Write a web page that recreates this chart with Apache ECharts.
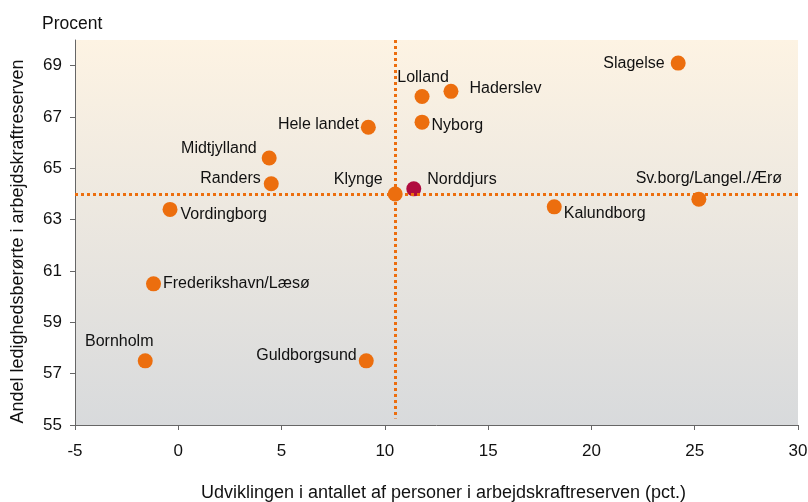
<!DOCTYPE html>
<html>
<head>
<meta charset="utf-8">
<script src="https://cdn.jsdelivr.net/npm/echarts@6/dist/echarts.min.js"></script>
<style>
  html, body { margin: 0; padding: 0; background: #fff; }
  #chart { width: 808px; height: 502px; }
</style>
</head>
<body>
<div id="chart"></div>
<script>
// kommuner og værdier
const names = ['Slagelse', 'Lolland', 'Haderslev', 'Nyborg', 'Norddjurs', 'Kalundborg',
    'Sv.borg/Langel./Ærø', 'Hele landet', 'Midtjylland', 'Randers', 'Klynge',
    'Vordingborg', 'Frederikshavn/Læsø', 'Bornholm', 'Guldborgsund'];
const xValues = [24.2, 11.8, 13.2, 11.8, 11.4, 18.2, 25.2, 9.2, 4.4, 4.5, 10.5, -0.4, -1.2, -1.6, 9.1];
const yValues = [69.1, 67.8, 68.0, 66.8, 64.2, 63.5, 63.8, 66.6, 65.4, 64.4, 64.0, 63.4, 60.5, 57.5, 57.5];
const highlighted = 'Norddjurs';
const refX = 10.5;   // lodret stiplet linje
const refY = 64;     // vandret stiplet linje
const yTicks = [55, 57, 59, 61, 63, 65, 67, 69];

// label-placering pr. punkt (kun stil)
const labelPos = {
    'Slagelse': { position: 'left', distance: 6, offset: [0, 0] },
    'Lolland': { position: 'top', distance: 3, offset: [1, 0] },
    'Haderslev': { position: 'right', distance: 11, offset: [0, -3] },
    'Nyborg': { position: 'right', distance: 2, offset: [0, 3] },
    'Norddjurs': { position: 'right', distance: 6, offset: [0, -9] },
    'Kalundborg': { position: 'right', distance: 2, offset: [0, 7] },
    'Sv.borg/Langel./Ærø': { position: 'top', distance: 5, offset: [10, 0] },
    'Hele landet': { position: 'left', distance: 2, offset: [0, -3] },
    'Midtjylland': { position: 'left', distance: 5, offset: [0, -9] },
    'Randers': { position: 'left', distance: 3, offset: [0, -5] },
    'Klynge': { position: 'left', distance: 5, offset: [0, -14] },
    'Vordingborg': { position: 'right', distance: 3, offset: [0, 5] },
    'Frederikshavn/Læsø': { position: 'right', distance: 2, offset: [0, 0] },
    'Bornholm': { position: 'top', distance: 4, offset: [-26, 0] },
    'Guldborgsund': { position: 'left', distance: 2, offset: [0, -5] }
};

const FONT = 'Arial, "Liberation Sans", sans-serif';
const orange = '#EC6E0E';
const crimson = '#B00B3E';

function pointsFor(filter) {
    return names.map((n, i) => ({ name: n, value: [xValues[i], yValues[i]] }))
        .filter(p => filter(p.name))
        .map(p => Object.assign(p, {
            label: Object.assign({ show: true, formatter: '{b}' }, labelPos[p.name])
        }));
}

const chart = echarts.init(document.getElementById('chart'));
const label = { color: '#111', fontSize: 16, fontFamily: FONT };

chart.setOption({
    animation: false,
    title: {
        text: 'Procent', left: 37, top: 10,
        textStyle: { color: '#111', fontSize: 17.5, fontWeight: 'normal', fontFamily: FONT }
    },
    grid: {
        left: 75, right: 10, top: 40, bottom: 77, show: true, borderWidth: 0,
        outerBoundsMode: 'none',
        backgroundColor: new echarts.graphic.LinearGradient(0, 0, 0, 1, [
            { offset: 0, color: '#FDF3E3' },
            { offset: 1, color: '#D8DADC' }
        ])
    },
    xAxis: {
        type: 'value', min: -5, max: 30, interval: 5,
        name: 'Udviklingen i antallet af personer i arbejdskraftreserven (pct.)',
        nameLocation: 'middle', nameGap: 59,
        nameTextStyle: { color: '#111', fontSize: 18, fontFamily: FONT, padding: [0, 0, 0, 14] },
        axisLine: { onZero: false, lineStyle: { color: '#666', width: 1 } },
        axisTick: { show: true, length: 5, lineStyle: { color: '#666' } },
        axisLabel: { color: '#111', fontSize: 17, fontFamily: FONT, margin: 18 },
        splitLine: { show: false }
    },
    yAxis: {
        type: 'value', min: 55, max: 70,
        name: 'Andel ledighedsberørte i arbejdskraftreserven',
        nameLocation: 'middle', nameGap: 48,
        nameTextStyle: { color: '#111', fontSize: 18, fontFamily: FONT, padding: [0, 18, 0, 0] },
        axisLine: { show: true, onZero: false, lineStyle: { color: '#666', width: 1 } },
        axisTick: { show: true, length: 5, customValues: yTicks, lineStyle: { color: '#666' } },
        axisLabel: { color: '#111', fontSize: 17, fontFamily: FONT, margin: 13, customValues: yTicks },
        splitLine: { show: false }
    },
    series: [
        {
            type: 'scatter', z: 2, symbolSize: 15,
            itemStyle: { color: crimson, opacity: 1 },
            label: label,
            data: pointsFor(n => n === highlighted)
        },
        {
            type: 'scatter', z: 3, data: [], silent: true,
            markLine: {
                symbol: 'none', silent: true, animation: false,
                label: { show: false },
                lineStyle: { color: orange, width: 3, type: [3, 3], opacity: 1 },
                data: [
                    [{ coord: [refX, 70] }, { coord: [refX, 55.25] }],
                    [{ coord: [-5, refY] }, { coord: [30, refY] }]
                ]
            }
        },
        {
            type: 'scatter', z: 4, symbolSize: 15,
            itemStyle: { color: orange, opacity: 1 },
            label: label,
            data: pointsFor(n => n !== highlighted)
        }
    ]
});
</script>
</body>
</html>
